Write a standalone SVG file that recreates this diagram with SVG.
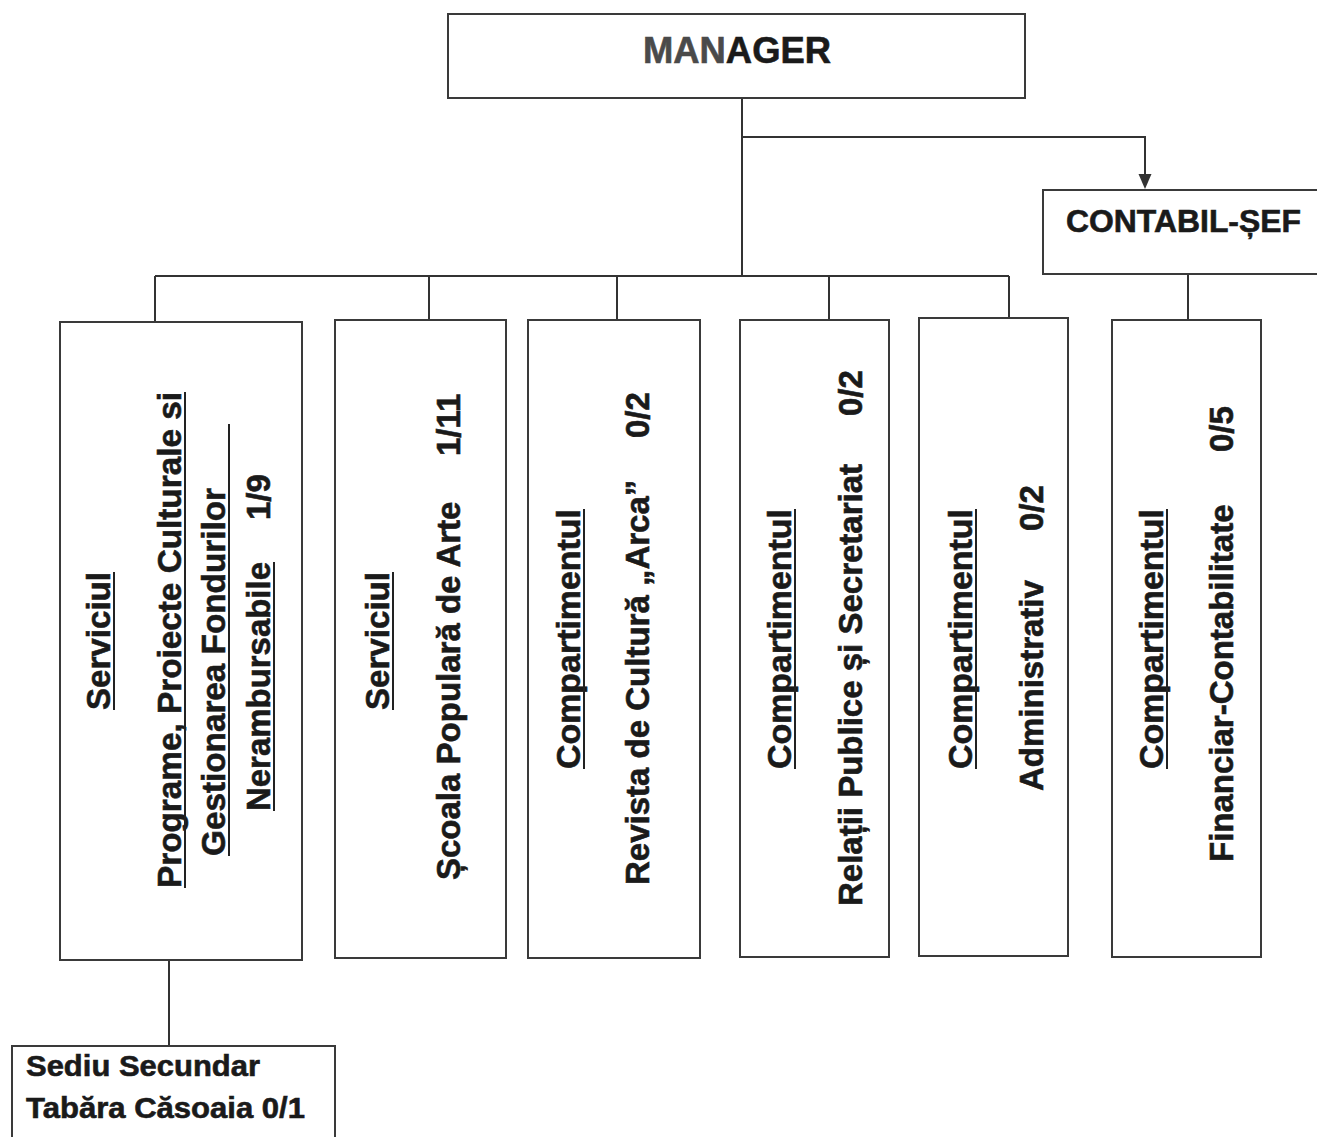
<svg xmlns="http://www.w3.org/2000/svg" width="1317" height="1137" viewBox="0 0 1317 1137">
<style>
.box{fill:#fff;stroke:#3a3a3a;stroke-width:2}
.conn{fill:none;stroke:#333;stroke-width:2}
.t{font-family:"Liberation Sans",Arial,sans-serif;font-weight:bold;fill:#1a1a1a;stroke:#1a1a1a;stroke-width:0.6}
.v{font-size:33px}
.ul{stroke:#222;stroke-width:2}
</style>
<rect width="1317" height="1137" fill="#fff"/>

<g id="connectors">
<path class="conn" d="M742 98 V276"/>
<path class="conn" d="M742 137 H1145 V175"/>
<path d="M1138.5 174 L1151.5 174 L1145 189 Z" fill="#333"/>
<path class="conn" d="M155 276 H1009"/>
<path class="conn" d="M155 276 V322"/>
<path class="conn" d="M429 276 V320"/>
<path class="conn" d="M617 276 V320"/>
<path class="conn" d="M829 276 V320"/>
<path class="conn" d="M1009 276 V318"/>
<path class="conn" d="M1188 274 V320"/>
<path class="conn" d="M169 960 V1046"/>
</g>

<g id="manager">
<rect class="box" x="448" y="14" width="577" height="84"/>
<text class="t" x="737" y="63" font-size="37" text-anchor="middle" textLength="188" lengthAdjust="spacingAndGlyphs"><tspan fill="#4a4a4a" stroke="#4a4a4a">MAN</tspan>AGER</text>
</g>

<g id="contabil-sef">
<rect class="box" x="1043" y="190" width="290" height="84"/>
<text class="t" x="1066" y="232" font-size="31" textLength="235" lengthAdjust="spacingAndGlyphs">CONTABIL-ȘEF</text>
</g>

<g id="serviciul-programe">
<rect class="box" x="60" y="322" width="242" height="638"/>
<g transform="translate(110,710) rotate(-90)">
<text class="t v" textLength="138" lengthAdjust="spacingAndGlyphs">Serviciul</text>
<line class="ul" x1="0" y1="4" x2="138" y2="4"/>
</g>
<g transform="translate(181,888) rotate(-90)">
<text class="t v" textLength="496" lengthAdjust="spacingAndGlyphs">Programe, Proiecte Culturale si</text>
<line class="ul" x1="0" y1="4" x2="496" y2="4"/>
</g>
<g transform="translate(225,856) rotate(-90)">
<text class="t v" textLength="368" lengthAdjust="spacingAndGlyphs">Gestionarea Fondurilor</text>
<line class="ul" x1="0" y1="4" x2="432" y2="4"/>
</g>
<g transform="translate(270,811) rotate(-90)">
<text class="t v" textLength="249" lengthAdjust="spacingAndGlyphs">Nerambursabile</text>
<line class="ul" x1="0" y1="4" x2="249" y2="4"/>
<text class="t v" x="291">1/9</text>
</g>
</g>

<g id="serviciul-scoala">
<rect class="box" x="335" y="320" width="171" height="638"/>
<g transform="translate(389,710) rotate(-90)">
<text class="t v" textLength="138" lengthAdjust="spacingAndGlyphs">Serviciul</text>
<line class="ul" x1="0" y1="4" x2="138" y2="4"/>
</g>
<g transform="translate(460,880) rotate(-90)">
<text class="t v">Școala Populară de Arte</text>
<text class="t v" x="424">1/11</text>
</g>
</g>

<g id="compartiment-revista">
<rect class="box" x="528" y="320" width="172" height="638"/>
<g transform="translate(580,769) rotate(-90)">
<text class="t v" textLength="260" lengthAdjust="spacingAndGlyphs">Compartimentul</text>
<line class="ul" x1="0" y1="4" x2="260" y2="4"/>
</g>
<g transform="translate(649,885) rotate(-90)">
<text class="t v">Revista de Cultură „Arca”</text>
<text class="t v" x="447">0/2</text>
</g>
</g>

<g id="compartiment-relatii">
<rect class="box" x="740" y="320" width="149" height="637"/>
<g transform="translate(791,769) rotate(-90)">
<text class="t v" textLength="260" lengthAdjust="spacingAndGlyphs">Compartimentul</text>
<line class="ul" x1="0" y1="4" x2="260" y2="4"/>
</g>
<g transform="translate(862,906) rotate(-90)">
<text class="t v">Relații Publice și Secretariat</text>
<text class="t v" x="490">0/2</text>
</g>
</g>

<g id="compartiment-administrativ">
<rect class="box" x="919" y="318" width="149" height="638"/>
<g transform="translate(972,769) rotate(-90)">
<text class="t v" textLength="260" lengthAdjust="spacingAndGlyphs">Compartimentul</text>
<line class="ul" x1="0" y1="4" x2="260" y2="4"/>
</g>
<g transform="translate(1043,791) rotate(-90)">
<text class="t v">Administrativ</text>
<text class="t v" x="260">0/2</text>
</g>
</g>

<g id="compartiment-financiar">
<rect class="box" x="1112" y="320" width="149" height="637"/>
<g transform="translate(1163,769) rotate(-90)">
<text class="t v" textLength="260" lengthAdjust="spacingAndGlyphs">Compartimentul</text>
<line class="ul" x1="0" y1="4" x2="260" y2="4"/>
</g>
<g transform="translate(1233,862) rotate(-90)">
<text class="t v">Financiar-Contabilitate</text>
<text class="t v" x="410">0/5</text>
</g>
</g>

<g id="sediu-secundar">
<rect class="box" x="12" y="1046" width="323" height="100"/>
<text class="t" x="26" y="1076" font-size="29" textLength="234" lengthAdjust="spacingAndGlyphs">Sediu Secundar</text>
<text class="t" x="26" y="1118" font-size="29" textLength="279" lengthAdjust="spacingAndGlyphs">Tabăra Căsoaia 0/1</text>
</g>
</svg>
